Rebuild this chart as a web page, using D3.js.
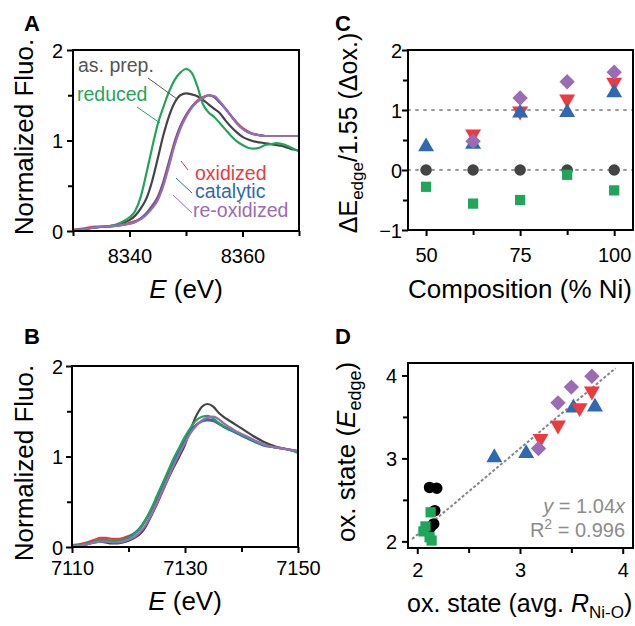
<!DOCTYPE html>
<html>
<head>
<meta charset="utf-8">
<script src="https://cdn.jsdelivr.net/npm/d3@7"></script>
<style>
  html, body { margin: 0; padding: 0; background: #fff; }
  svg { display: block; font-family: "Liberation Sans", Arial, Helvetica, sans-serif; }
</style>
</head>
<body>
<svg id="fig" width="635" height="626"></svg>
<script>
// ---- panel A : Ni K-edge XANES ----
const energyA = [8330, 8332, 8334, 8336, 8338, 8339, 8340, 8341, 8342, 8343, 8344, 8345, 8346, 8347, 8348, 8349,
  8350, 8351, 8352, 8353, 8354, 8355, 8356, 8357, 8358, 8359, 8360, 8361, 8362, 8363, 8364, 8365, 8366, 8367, 8368, 8369, 8370];
const asPrepA = [0.01, 0.02, 0.04, 0.05, 0.07, 0.09, 0.12, 0.17, 0.25, 0.36, 0.55, 0.80, 1.06, 1.27, 1.42, 1.50,
  1.52, 1.51, 1.49, 1.45, 1.40, 1.35, 1.30, 1.22, 1.15, 1.09, 1.04, 1.01, 0.99, 0.98, 0.97, 0.96, 0.95, 0.94, 0.92, 0.90, 0.89];
const reducedA = [0.01, 0.02, 0.04, 0.05, 0.08, 0.11, 0.15, 0.22, 0.38, 0.64, 0.92, 1.18, 1.37, 1.54, 1.67, 1.75,
  1.79, 1.75, 1.60, 1.40, 1.31, 1.26, 1.19, 1.12, 1.05, 0.99, 0.95, 0.92, 0.91, 0.92, 0.95, 0.96, 0.97, 0.96, 0.94, 0.91, 0.88];
const oxidizedA = [0.01, 0.03, 0.05, 0.05, 0.06, 0.07, 0.09, 0.11, 0.14, 0.20, 0.28, 0.38, 0.55, 0.77, 0.99, 1.16,
  1.28, 1.37, 1.44, 1.48, 1.50, 1.48, 1.42, 1.35, 1.27, 1.20, 1.14, 1.10, 1.07, 1.06, 1.05, 1.05, 1.05, 1.05, 1.05, 1.05, 1.05];
const catalyticA = [0.01, 0.02, 0.04, 0.05, 0.06, 0.07, 0.08, 0.10, 0.14, 0.19, 0.27, 0.36, 0.53, 0.75, 0.97, 1.15,
  1.27, 1.37, 1.43, 1.47, 1.50, 1.48, 1.42, 1.35, 1.27, 1.19, 1.13, 1.09, 1.07, 1.06, 1.05, 1.05, 1.05, 1.05, 1.05, 1.05, 1.05];
const reoxA = [0.01, 0.02, 0.04, 0.05, 0.06, 0.07, 0.08, 0.10, 0.13, 0.18, 0.25, 0.34, 0.50, 0.72, 0.95, 1.13,
  1.26, 1.36, 1.43, 1.47, 1.50, 1.49, 1.43, 1.35, 1.27, 1.19, 1.13, 1.09, 1.07, 1.06, 1.05, 1.05, 1.05, 1.05, 1.05, 1.05, 1.05];

// ---- panel B : Fe K-edge XANES ----
const energyB = [7110, 7112, 7114, 7115, 7116, 7117, 7118, 7119, 7120, 7121, 7122, 7123, 7124, 7125, 7126, 7127,
  7128, 7129, 7130, 7131, 7132, 7133, 7134, 7135, 7136, 7137, 7138, 7139, 7140, 7142, 7144, 7146, 7148, 7150];
const asPrepB = [0.01, 0.02, 0.05, 0.06, 0.05, 0.04, 0.04, 0.05, 0.07, 0.10, 0.14, 0.22, 0.34, 0.47, 0.61, 0.75,
  0.88, 1.00, 1.13, 1.30, 1.45, 1.55, 1.58, 1.55, 1.48, 1.43, 1.39, 1.35, 1.31, 1.23, 1.16, 1.11, 1.08, 1.05];
const reducedB = [0.01, 0.03, 0.06, 0.08, 0.08, 0.07, 0.07, 0.08, 0.10, 0.14, 0.20, 0.30, 0.42, 0.56, 0.70, 0.84,
  0.98, 1.10, 1.22, 1.32, 1.40, 1.44, 1.45, 1.42, 1.37, 1.33, 1.30, 1.27, 1.24, 1.18, 1.13, 1.10, 1.08, 1.04];
const oxidizedB = [0.02, 0.04, 0.08, 0.10, 0.10, 0.09, 0.09, 0.10, 0.12, 0.15, 0.20, 0.29, 0.40, 0.53, 0.67, 0.81,
  0.95, 1.07, 1.18, 1.28, 1.35, 1.39, 1.40, 1.39, 1.36, 1.33, 1.30, 1.27, 1.24, 1.18, 1.13, 1.10, 1.08, 1.06];
const catalyticB = [0.01, 0.03, 0.06, 0.07, 0.07, 0.06, 0.07, 0.08, 0.11, 0.15, 0.21, 0.30, 0.41, 0.54, 0.68, 0.82,
  0.95, 1.07, 1.18, 1.28, 1.35, 1.39, 1.41, 1.40, 1.36, 1.32, 1.29, 1.26, 1.23, 1.17, 1.12, 1.10, 1.08, 1.06];
const reoxB = [0.01, 0.02, 0.05, 0.06, 0.06, 0.05, 0.05, 0.06, 0.08, 0.11, 0.16, 0.24, 0.35, 0.48, 0.62, 0.76,
  0.90, 1.03, 1.15, 1.26, 1.34, 1.40, 1.43, 1.44, 1.41, 1.36, 1.32, 1.28, 1.25, 1.19, 1.13, 1.10, 1.08, 1.06];

// ---- panel C : edge shift vs composition ----
const compC = [50, 62.5, 75, 87.5, 100];
const asPrepC = [0, 0, 0, 0, 0];
const reducedC = [-0.28, -0.56, -0.50, -0.08, -0.34];
const oxidizedC = [null, 0.60, 0.98, 1.18, 1.46];
const catalyticC = [0.39, 0.43, 0.95, 0.96, 1.29];
const reoxC = [null, 0.48, 1.20, 1.47, 1.63];
const refLinesC = [0, 1];

// ---- panel D : ox. state from E_edge vs from R_Ni-O ----
const asPrepDx = [2.12, 2.19, 2.17, 2.16, 2.13];
const asPrepDy = [2.65, 2.64, 2.37, 2.21, 2.17];
const reducedDx = [2.13, 2.08, 2.06, 2.12, 2.14];
const reducedDy = [2.35, 2.18, 2.12, 2.05, 2.01];
const oxidizedDx = [3.70, 3.58, 3.37, 3.20];
const oxidizedDy = [3.81, 3.61, 3.40, 3.24];
const catalyticDx = [3.73, 3.52, 3.06, 2.75];
const catalyticDy = [3.62, 3.61, 3.06, 3.01];
const reoxDx = [3.70, 3.50, 3.37, 3.18];
const reoxDy = [3.99, 3.86, 3.67, 3.12];
const fitSlope = 1.04;
const fitRange = [1.95, 3.93];

const COL = {
  asPrep: '#444444',
  reduced: '#1fa65b',
  oxidized: '#ec3a3e',
  catalytic: '#2f69b4',
  reox: '#9a6cb4',
};

const svg = d3.select('#fig');

function panel(box, xDomain, yDomain) {
  const x = d3.scaleLinear().domain(xDomain).range([box.l, box.r]);
  const y = d3.scaleLinear().domain(yDomain).range([box.b, box.t]);
  return { x, y, box };
}

function drawFrame(p) {
  const { box } = p;
  svg.append('rect')
    .attr('x', box.l).attr('y', box.t)
    .attr('width', box.r - box.l).attr('height', box.b - box.t)
    .attr('fill', 'none').attr('stroke', '#000').attr('stroke-width', 2);
}

function drawAxes(p, o) {
  const { x, y, box } = p;
  const xa = svg.append('g').attr('transform', `translate(0,${box.b})`)
    .call(d3.axisBottom(x).tickValues(o.xMajor).tickSize(6).tickFormat(d3.format('d')));
  xa.select('.domain').remove();
  xa.selectAll('line').attr('stroke-width', 2);
  xa.selectAll('text').attr('y', o.xLabY).attr('dy', 0)
    .attr('font-size', 20).attr('font-family', null);
  const xm = svg.append('g').attr('transform', `translate(0,${box.b})`)
    .call(d3.axisBottom(x).tickValues(o.xMinor).tickSize(5).tickFormat(''));
  xm.select('.domain').remove();
  xm.selectAll('line').attr('stroke-width', 2);

  const ya = svg.append('g').attr('transform', `translate(${box.l},0)`)
    .call(d3.axisLeft(y).tickValues(o.yMajor).tickSize(6).tickFormat(d3.format('d')));
  ya.select('.domain').remove();
  ya.selectAll('line').attr('stroke-width', 2);
  ya.selectAll('text').attr('x', -o.yLabGap).attr('dy', '0.36em')
    .attr('font-size', 20).attr('font-family', null);
  const ym = svg.append('g').attr('transform', `translate(${box.l},0)`)
    .call(d3.axisLeft(y).tickValues(o.yMinor).tickSize(5).tickFormat(''));
  ym.select('.domain').remove();
  ym.selectAll('line').attr('stroke-width', 2);
}

function panelLetter(txt, x, y) {
  svg.append('text').attr('x', x).attr('y', y).attr('font-size', 22)
    .attr('font-weight', 'bold').text(txt);
}

function drawCurves(p, energy, series) {
  const line = d3.line().curve(d3.curveMonotoneX);
  series.forEach(([vals, color]) => {
    svg.append('path')
      .attr('d', line(energy.map((e, i) => [p.x(e), p.y(vals[i])])))
      .attr('fill', 'none').attr('stroke', color).attr('stroke-width', 2.2)
      .attr('stroke-linejoin', 'round');
  });
}

function yTitle(x, y, size) {
  return svg.append('text')
    .attr('transform', `translate(${x},${y}) rotate(-90)`)
    .attr('text-anchor', 'middle').attr('font-size', size);
}

function eTitle(x, y) {
  const t = svg.append('text').attr('x', x).attr('y', y)
    .attr('text-anchor', 'middle').attr('font-size', 26);
  t.append('tspan').attr('font-style', 'italic').text('E');
  t.append('tspan').text(' (eV)');
}

// ================= Panel A =================
const pA = panel({ l: 73, r: 299, t: 50, b: 231 }, [8330, 8370], [0, 2]);
drawCurves(pA, energyA, [
  [asPrepA, COL.asPrep], [reducedA, COL.reduced], [oxidizedA, COL.oxidized],
  [catalyticA, COL.catalytic], [reoxA, COL.reox],
]);
drawFrame(pA);
drawAxes(pA, {
  xMajor: [8340, 8360], xMinor: [8330, 8350, 8370], xLabY: 32,
  yMajor: [0, 1, 2], yMinor: [0.5, 1.5], yLabGap: 10,
});
yTitle(33, 137, 26).text('Normalized Fluo.');
eTitle(186, 298);
panelLetter('A', 24, 31);

// legend labels with leader lines
const legA = [
  { text: 'as. prep.', color: '#555555', x: 78, y: 72, l: [148, 78, 177, 99] },
  { text: 'reduced', color: COL.reduced, x: 77, y: 101, l: [137, 107, 160, 123] },
  { text: 'oxidized', color: COL.oxidized, x: 195, y: 180, l: [181, 161, 188, 170] },
  { text: 'catalytic', color: COL.catalytic, x: 195, y: 198, l: [176, 178, 192, 193] },
  { text: 're-oxidized', color: COL.reox, x: 193, y: 217, l: [173, 195, 192, 213] },
];
legA.forEach(d => {
  svg.append('line')
    .attr('x1', d.l[0]).attr('y1', d.l[1]).attr('x2', d.l[2]).attr('y2', d.l[3])
    .attr('stroke', d.color).attr('stroke-width', 1);
  svg.append('text').attr('x', d.x).attr('y', d.y).attr('font-size', 19.5)
    .attr('fill', d.color).text(d.text);
});

// ================= Panel B =================
const pB = panel({ l: 72, r: 298, t: 366, b: 547 }, [7110, 7150], [0, 2]);
drawCurves(pB, energyB, [
  [asPrepB, COL.asPrep], [oxidizedB, COL.oxidized], [catalyticB, COL.catalytic],
  [reducedB, COL.reduced], [reoxB, COL.reox],
]);
drawFrame(pB);
drawAxes(pB, {
  xMajor: [7110, 7130, 7150], xMinor: [7120, 7140], xLabY: 28,
  yMajor: [0, 1, 2], yMinor: [0.5, 1.5], yLabGap: 9,
});
yTitle(33, 463, 26).text('Normalized Fluo.');
eTitle(185, 610);
panelLetter('B', 24, 344);

// ================= Panel C =================
const pC = panel({ l: 408, r: 633, t: 50, b: 230 }, [45.2, 105], [-1, 2]);
refLinesC.forEach(v => {
  svg.append('line')
    .attr('x1', pC.x.range()[0]).attr('x2', pC.x.range()[1])
    .attr('y1', pC.y(v)).attr('y2', pC.y(v))
    .attr('stroke', '#9a9a9a').attr('stroke-width', 2)
    .attr('stroke-dasharray', '2,6').attr('stroke-linecap', 'round');
});

const symCircle = d3.symbol(d3.symbolCircle, 105);
const symSquare = d3.symbol(d3.symbolSquare, 105);
const symTri = d3.symbol(d3.symbolTriangle, 110);
const symDiamond = d3.symbol(d3.symbolSquare, 118);

function drawMarkers(p, xs, ys, kind, color) {
  const pts = xs.map((xv, i) => [xv, ys[i]]).filter(d => d[1] != null);
  const sym = { circle: symCircle, square: symSquare, up: symTri, down: symTri, diamond: symDiamond }[kind];
  const rot = { circle: 0, square: 0, up: 0, down: 180, diamond: 45 }[kind];
  svg.append('g').selectAll('path').data(pts).join('path')
    .attr('d', sym)
    .attr('transform', d => `translate(${p.x(d[0])},${p.y(d[1])}) rotate(${rot})`)
    .attr('fill', color);
}

drawMarkers(pC, compC, asPrepC, 'circle', COL.asPrep);
drawMarkers(pC, compC, reducedC, 'square', COL.reduced);
drawMarkers(pC, compC, oxidizedC, 'down', COL.oxidized);
drawMarkers(pC, compC, catalyticC, 'up', COL.catalytic);
drawMarkers(pC, compC, reoxC, 'diamond', COL.reox);
drawFrame(pC);
drawAxes(pC, {
  xMajor: [50, 75, 100], xMinor: [62.5, 87.5], xLabY: 32,
  yMajor: [-1, 0, 1, 2], yMinor: [-0.5, 0.5, 1.5], yLabGap: 6,
});
{
  const t = yTitle(357, 133, 25);
  t.append('tspan').text('ΔE');
  t.append('tspan').attr('font-size', 17).attr('dy', 6).text('edge');
  t.append('tspan').attr('dy', -6).text('/1.55 (Δox.)');
}
svg.append('text').attr('x', 520).attr('y', 298).attr('text-anchor', 'middle')
  .attr('font-size', 26).text('Composition (% Ni)');
panelLetter('C', 335, 31);

// ================= Panel D =================
const pD = panel({ l: 408, r: 633, t: 363, b: 548 }, [1.91, 4.1], [1.92, 4.15]);
svg.append('line')
  .attr('x1', pD.x(fitRange[0])).attr('y1', pD.y(fitSlope * fitRange[0]))
  .attr('x2', pD.x(fitRange[1])).attr('y2', pD.y(fitSlope * fitRange[1]))
  .attr('stroke', '#858585').attr('stroke-width', 2).attr('stroke-dasharray', '3,2');

drawMarkers(pD, asPrepDx, asPrepDy, 'circle', '#000');
drawMarkers(pD, reducedDx, reducedDy, 'square', COL.reduced);
drawMarkers(pD, catalyticDx, catalyticDy, 'up', COL.catalytic);
drawMarkers(pD, oxidizedDx, oxidizedDy, 'down', COL.oxidized);
drawMarkers(pD, reoxDx, reoxDy, 'diamond', COL.reox);
drawFrame(pD);
drawAxes(pD, {
  xMajor: [2, 3, 4], xMinor: [2.5, 3.5], xLabY: 29,
  yMajor: [2, 3, 4], yMinor: [2.5, 3.5], yLabGap: 11,
});
{
  const t = yTitle(355, 452, 26);
  t.append('tspan').text('ox. state (');
  t.append('tspan').attr('font-style', 'italic').text('E');
  t.append('tspan').attr('font-size', 18).attr('dy', 6).text('edge');
  t.append('tspan').attr('dy', -6).text(')');
}
{
  const t = svg.append('text').attr('x', 407).attr('y', 612).attr('font-size', 25);
  t.append('tspan').text('ox. state (avg. ');
  t.append('tspan').attr('font-style', 'italic').text('R');
  t.append('tspan').attr('font-size', 17).attr('dy', 6).text('Ni-O');
  t.append('tspan').attr('dy', -6).text(')');
}
{
  const g = '#8c8c8c';
  const t1 = svg.append('text').attr('x', 625).attr('y', 513).attr('text-anchor', 'end')
    .attr('font-size', 20).attr('fill', g);
  t1.append('tspan').attr('font-style', 'italic').text('y');
  t1.append('tspan').text(' = ' + fitSlope.toFixed(2));
  t1.append('tspan').attr('font-style', 'italic').text('x');
  const t2 = svg.append('text').attr('x', 625).attr('y', 537).attr('text-anchor', 'end')
    .attr('font-size', 20).attr('fill', g);
  t2.append('tspan').text('R');
  t2.append('tspan').attr('font-size', 14).attr('dy', -8).text('2');
  t2.append('tspan').attr('dy', 8).text(' = 0.996');
}
panelLetter('D', 335, 344);
</script>
</body>
</html>
